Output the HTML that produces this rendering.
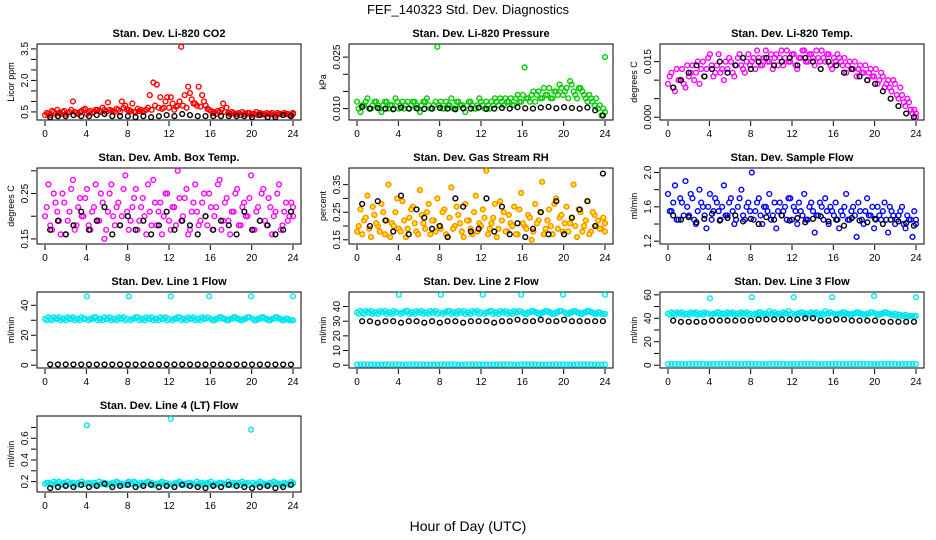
<!DOCTYPE html>
<html><head><meta charset="utf-8"><style>
html,body{margin:0;padding:0;background:#fff;}
svg{display:block;font-family:"Liberation Sans",sans-serif;}
</style></head><body>
<svg id="c" width="936" height="540" viewBox="0 0 936 540" xmlns="http://www.w3.org/2000/svg">
<text x="468" y="14" text-anchor="middle" font-size="13">FEF_140323  Std. Dev. Diagnostics</text>
<text x="468" y="531" text-anchor="middle" font-size="14">Hour of Day (UTC)</text>
</svg>
<script>
const hourTicks=[0,4,8,12,16,20,24];
const co2Red=[0.35,0.4,0.55,0.4,0.45,0.5,0.4,0.5,1.0,0.45,0.5,0.6,0.4,0.55,0.5,0.6,0.5,0.6,0.95,0.55,0.5,0.6,1.0,0.8,0.6,0.9,0.5,0.55,0.5,0.6,1.3,1.9,1.8,1.2,0.7,1.2,1.2,0.6,0.8,3.6,1.3,1.7,1.1,0.9,1.7,1.3,0.8,0.6,0.45,0.4,0.5,0.9,0.7,0.4,0.45,0.4,0.35,0.4,0.45,0.35,0.4,0.35,0.4,0.35,0.4,0.45,0.35,0.4,0.35,0.4,0.35,0.4];
const co2Red2=[0.45,0.35,0.5,0.6,0.4,0.55,0.45,0.6,0.5,0.4,0.55,0.65,0.5,0.45,0.6,0.55,0.7,0.5,0.6,0.55,0.65,0.5,0.7,0.6,0.55,0.5,0.65,0.6,0.55,0.7,0.6,0.8,0.7,0.65,1.0,0.7,0.9,0.75,1.0,0.8,0.7,1.4,0.9,0.8,0.75,1.0,0.65,0.55,0.5,0.55,0.6,0.5,0.45,0.5,0.4,0.45,0.5,0.4,0.45,0.4,0.5,0.45,0.4,0.45,0.4,0.35,0.45,0.4,0.45,0.4,0.35,0.45];
const co2Black=[0.25,0.3,0.3,0.35,0.3,0.3,0.35,0.4,0.3,0.3,0.3,0.25,0.3,0.25,0.3,0.35,0.3,0.4,0.35,0.3,0.3,0.3,0.3,0.3,0.3,0.3,0.25,0.35,0.25,0.25,0.35,0.3];
const presGreen=[0.012,0.009,0.011,0.013,0.010,0.012,0.011,0.009,0.012,0.010,0.011,0.013,0.010,0.012,0.011,0.010,0.012,0.011,0.009,0.012,0.013,0.010,0.011,0.028,0.012,0.010,0.011,0.013,0.010,0.012,0.011,0.009,0.012,0.011,0.010,0.013,0.011,0.012,0.010,0.011,0.012,0.013,0.011,0.012,0.013,0.011,0.014,0.012,0.022,0.013,0.014,0.012,0.015,0.013,0.014,0.016,0.013,0.015,0.017,0.014,0.016,0.018,0.015,0.013,0.016,0.014,0.012,0.013,0.011,0.010,0.008,0.025];
const presGreen2=[0.010,0.011,0.012,0.010,0.011,0.012,0.010,0.011,0.012,0.011,0.010,0.012,0.011,0.010,0.012,0.011,0.012,0.010,0.011,0.012,0.011,0.010,0.012,0.011,0.010,0.012,0.011,0.010,0.012,0.011,0.010,0.011,0.012,0.010,0.011,0.012,0.010,0.011,0.012,0.013,0.011,0.012,0.013,0.012,0.011,0.013,0.012,0.014,0.013,0.012,0.015,0.014,0.013,0.016,0.014,0.013,0.015,0.014,0.016,0.015,0.013,0.017,0.014,0.016,0.015,0.013,0.014,0.012,0.013,0.011,0.010,0.009];
const presBlack=[0.0105,0.010,0.0102,0.010,0.0098,0.0103,0.010,0.0101,0.0099,0.010,0.0102,0.010,0.0098,0.0101,0.010,0.0103,0.0099,0.010,0.0102,0.010,0.0104,0.0101,0.010,0.0103,0.0105,0.0101,0.0104,0.0102,0.010,0.0103,0.0095,0.008];
const tempMag=[0.009,0.012,0.007,0.010,0.013,0.008,0.011,0.014,0.012,0.009,0.015,0.013,0.017,0.011,0.014,0.012,0.010,0.013,0.015,0.011,0.016,0.014,0.012,0.017,0.015,0.013,0.016,0.014,0.018,0.015,0.013,0.017,0.016,0.014,0.018,0.015,0.017,0.013,0.016,0.018,0.015,0.017,0.014,0.016,0.018,0.015,0.017,0.013,0.015,0.016,0.014,0.012,0.015,0.013,0.011,0.014,0.012,0.010,0.013,0.011,0.009,0.012,0.008,0.010,0.007,0.009,0.005,0.006,0.003,0.004,0.001,0.000];
const tempMag2=[0.011,0.008,0.013,0.010,0.009,0.014,0.012,0.010,0.015,0.013,0.011,0.016,0.014,0.012,0.017,0.013,0.015,0.016,0.012,0.014,0.017,0.013,0.015,0.014,0.016,0.018,0.014,0.016,0.015,0.017,0.016,0.014,0.018,0.016,0.015,0.017,0.014,0.016,0.018,0.015,0.017,0.016,0.018,0.015,0.016,0.017,0.014,0.016,0.017,0.015,0.016,0.014,0.013,0.015,0.013,0.012,0.014,0.012,0.011,0.013,0.010,0.011,0.009,0.008,0.010,0.006,0.008,0.004,0.005,0.002,0.002,0.001];
const tempBlack=[0.008,0.010,0.012,0.014,0.011,0.013,0.015,0.012,0.014,0.016,0.013,0.015,0.016,0.014,0.015,0.016,0.014,0.016,0.015,0.013,0.015,0.014,0.012,0.013,0.011,0.010,0.009,0.007,0.005,0.003,0.001,0.000];
const ambMag=[0.20,0.27,0.17,0.23,0.19,0.25,0.16,0.21,0.28,0.18,0.24,0.20,0.26,0.17,0.22,0.19,0.25,0.15,0.21,0.27,0.18,0.23,0.20,0.29,0.17,0.22,0.26,0.19,0.24,0.16,0.21,0.28,0.18,0.23,0.20,0.25,0.17,0.22,0.30,0.19,0.24,0.16,0.21,0.27,0.18,0.23,0.20,0.25,0.17,0.22,0.28,0.19,0.24,0.16,0.21,0.26,0.18,0.23,0.20,0.29,0.17,0.22,0.25,0.19,0.24,0.16,0.21,0.27,0.18,0.23,0.20,0.22];
const ambMag2=[0.22,0.18,0.25,0.21,0.16,0.23,0.19,0.26,0.17,0.22,0.20,0.24,0.18,0.21,0.27,0.19,0.23,0.17,0.25,0.20,0.22,0.18,0.26,0.21,0.19,0.24,0.17,0.22,0.20,0.27,0.18,0.23,0.21,0.16,0.25,0.19,0.22,0.18,0.24,0.20,0.26,0.17,0.23,0.21,0.19,0.25,0.18,0.22,0.20,0.27,0.17,0.23,0.19,0.21,0.25,0.18,0.22,0.20,0.24,0.17,0.21,0.19,0.26,0.18,0.22,0.20,0.25,0.17,0.21,0.19,0.23,0.20];
const ambBlack=[0.17,0.19,0.16,0.18,0.21,0.17,0.19,0.22,0.16,0.18,0.20,0.17,0.19,0.16,0.18,0.21,0.17,0.19,0.18,0.16,0.20,0.17,0.19,0.18,0.16,0.21,0.17,0.19,0.18,0.16,0.17,0.21];
const rhOrange=[0.18,0.26,0.22,0.31,0.16,0.24,0.20,0.28,0.17,0.35,0.21,0.25,0.19,0.29,0.16,0.23,0.27,0.18,0.33,0.21,0.25,0.17,0.22,0.30,0.19,0.26,0.16,0.34,0.20,0.24,0.18,0.28,0.22,0.17,0.31,0.21,0.26,0.40,0.19,0.23,0.16,0.29,0.25,0.18,0.21,0.27,0.17,0.32,0.20,0.24,0.15,0.28,0.22,0.36,0.19,0.26,0.17,0.30,0.23,0.18,0.27,0.21,0.35,0.16,0.25,0.20,0.29,0.18,0.24,0.22,0.19,0.21];
const rhOrange2=[0.20,0.17,0.23,0.19,0.27,0.21,0.18,0.25,0.22,0.16,0.20,0.30,0.18,0.22,0.19,0.26,0.21,0.17,0.24,0.19,0.28,0.22,0.18,0.20,0.25,0.17,0.23,0.19,0.27,0.21,0.16,0.22,0.19,0.25,0.18,0.20,0.23,0.17,0.21,0.28,0.19,0.22,0.18,0.24,0.20,0.17,0.26,0.21,0.19,0.23,0.18,0.21,0.25,0.17,0.22,0.20,0.28,0.19,0.24,0.21,0.18,0.23,0.20,0.26,0.18,0.22,0.17,0.25,0.20,0.19,0.23,0.18];
const rhBlack=[0.28,0.20,0.29,0.22,0.18,0.31,0.17,0.26,0.23,0.19,0.20,0.16,0.30,0.27,0.18,0.19,0.30,0.18,0.27,0.17,0.21,0.16,0.19,0.25,0.17,0.29,0.17,0.23,0.26,0.29,0.20,0.39];
const flowBlue=[1.75,1.55,1.85,1.45,1.65,1.90,1.50,1.70,1.40,1.80,1.60,1.35,1.75,1.55,1.65,1.45,1.85,1.50,1.70,1.40,1.60,1.80,1.45,1.65,2.00,1.55,1.70,1.40,1.60,1.75,1.50,1.35,1.65,1.55,1.45,1.70,1.60,1.40,1.55,1.75,1.45,1.65,1.30,1.50,1.60,1.70,1.40,1.55,1.65,1.35,1.50,1.75,1.45,1.60,1.25,1.55,1.40,1.70,1.50,1.35,1.60,1.45,1.65,1.30,1.55,1.40,1.50,1.60,1.35,1.45,1.25,1.40];
const flowBlue2=[1.55,1.65,1.45,1.70,1.50,1.60,1.75,1.45,1.55,1.65,1.50,1.60,1.45,1.70,1.55,1.60,1.50,1.65,1.55,1.45,1.70,1.50,1.60,1.55,1.45,1.65,1.50,1.60,1.55,1.45,1.65,1.55,1.50,1.60,1.70,1.45,1.55,1.65,1.50,1.45,1.60,1.55,1.50,1.65,1.45,1.55,1.60,1.50,1.45,1.55,1.60,1.45,1.55,1.50,1.65,1.45,1.55,1.50,1.60,1.45,1.50,1.55,1.45,1.60,1.50,1.45,1.55,1.40,1.50,1.45,1.55,1.45];
const flowBlack=[1.50,1.45,1.48,1.42,1.46,1.52,1.44,1.47,1.50,1.43,1.46,1.40,1.48,1.45,1.50,1.44,1.47,1.42,1.46,1.49,1.43,1.45,1.38,1.47,1.44,1.42,1.46,1.40,1.45,1.43,1.41,1.38];
const line1Cyan=[31,32,30,31,32,31,30,31,32,31,30,31,46,31,32,30,31,32,31,30,31,32,31,30,46,31,32,30,31,32,31,30,31,32,31,30,46,31,32,30,31,32,31,30,31,32,31,46,30,31,32,31,30,31,32,31,30,31,32,46,30,31,32,31,30,31,32,31,30,31,30,46];
const line1Cyan2=[30,31,32,31,30,31,32,31,30,31,32,31,30,31,32,31,30,31,32,31,30,31,32,31,30,31,32,31,30,31,32,31,30,31,32,31,30,31,32,31,30,31,32,31,30,31,32,31,30,31,32,31,30,31,32,31,30,31,32,31,30,31,32,31,30,31,32,31,30,31,30,30];
const line1Black=[0.5,0.5,0.5,0.5,0.5,0.5,0.5,0.5,0.5,0.5,0.5,0.5,0.5,0.5,0.5,0.5,0.5,0.5,0.5,0.5,0.5,0.5,0.5,0.5,0.5,0.5,0.5,0.5,0.5,0.5,0.5,0.5];
const line2Cyan=[36,37,35,36,37,36,35,36,37,36,35,36,48,36,37,35,36,37,36,35,36,37,36,35,48,36,37,35,36,37,36,35,36,37,36,35,48,36,37,35,36,37,36,35,36,37,36,48,35,36,37,36,35,36,37,36,35,36,37,48,35,36,37,36,35,36,37,36,35,36,35,48];
const line2Cyan2=[35,36,37,36,35,36,37,36,35,36,37,36,35,36,37,36,35,36,37,36,35,36,37,36,35,36,37,36,35,36,37,36,35,36,37,36,35,36,37,36,35,36,37,36,35,36,37,36,35,36,37,36,35,36,37,36,35,36,37,36,35,36,37,36,35,36,37,36,35,36,35,35];
const line2Zero=[0.5,0.5,0.5,0.5,0.5,0.5,0.5,0.5,0.5,0.5,0.5,0.5,0.5,0.5,0.5,0.5,0.5,0.5,0.5,0.5,0.5,0.5,0.5,0.5,0.5,0.5,0.5,0.5,0.5,0.5,0.5,0.5,0.5,0.5,0.5,0.5,0.5,0.5,0.5,0.5,0.5,0.5,0.5,0.5,0.5,0.5,0.5,0.5,0.5,0.5,0.5,0.5,0.5,0.5,0.5,0.5,0.5,0.5,0.5,0.5,0.5,0.5,0.5,0.5,0.5,0.5,0.5,0.5,0.5,0.5,0.5,0.5];
const line2Black=[30,30,29,30,30,29,30,30,29,30,29,30,30,29,30,30,30,29,30,30,31,30,30,31,30,30,31,30,30,30,30,30];
const line3Cyan=[44,45,43,44,45,44,43,44,45,44,43,44,57,44,45,43,44,45,44,43,44,45,44,43,58,44,45,43,44,46,44,43,44,45,44,43,58,44,45,43,44,45,44,43,44,46,44,58,43,44,45,44,43,44,45,44,43,44,45,59,43,44,45,44,43,44,43,42,43,42,42,58];
const line3Cyan2=[43,44,45,44,43,44,45,44,43,44,45,44,43,44,45,44,43,44,45,44,43,44,45,44,43,44,45,44,43,44,45,44,43,44,46,44,43,44,45,44,43,44,45,44,43,44,45,44,43,44,45,44,43,44,45,44,43,44,45,44,43,44,45,44,43,42,43,42,41,42,41,42];
const line3Zero=[1,1,1,1,1,1,1,1,1,1,1,1,1,1,1,1,1,1,1,1,1,1,1,1,1,1,1,1,1,1,1,1,1,1,1,1,1,1,1,1,1,1,1,1,1,1,1,1,1,1,1,1,1,1,1,1,1,1,1,1,1,1,1,1,1,1,1,1,1,1,1,1];
const line3Black=[38,37,37,37,37,38,38,38,38,38,38,39,39,39,39,39,39,40,40,38,38,39,39,38,38,38,38,37,37,37,37,37];
const line4Cyan=[0.18,0.19,0.17,0.18,0.2,0.18,0.17,0.18,0.19,0.18,0.17,0.18,0.72,0.18,0.19,0.17,0.18,0.19,0.18,0.17,0.18,0.19,0.18,0.17,0.2,0.18,0.19,0.17,0.18,0.19,0.18,0.17,0.18,0.19,0.18,0.17,0.78,0.18,0.19,0.17,0.18,0.19,0.18,0.17,0.18,0.19,0.18,0.18,0.17,0.18,0.19,0.18,0.17,0.18,0.19,0.18,0.17,0.18,0.19,0.68,0.17,0.18,0.19,0.18,0.17,0.18,0.19,0.18,0.17,0.18,0.17,0.18];
const line4Cyan2=[0.19,0.18,0.2,0.19,0.17,0.19,0.2,0.18,0.17,0.19,0.2,0.18,0.19,0.17,0.18,0.2,0.19,0.17,0.18,0.19,0.2,0.18,0.17,0.19,0.18,0.2,0.17,0.19,0.18,0.2,0.19,0.17,0.18,0.2,0.19,0.18,0.17,0.19,0.2,0.18,0.17,0.19,0.18,0.2,0.17,0.18,0.19,0.2,0.18,0.17,0.19,0.18,0.2,0.17,0.18,0.19,0.2,0.18,0.17,0.19,0.18,0.2,0.17,0.18,0.19,0.2,0.18,0.17,0.19,0.18,0.2,0.19];
const line4Black=[0.14,0.15,0.16,0.15,0.17,0.15,0.16,0.18,0.15,0.16,0.17,0.15,0.16,0.17,0.15,0.16,0.15,0.17,0.16,0.15,0.14,0.16,0.15,0.17,0.16,0.15,0.14,0.15,0.16,0.14,0.15,0.17];

const panels=[
 {name:"co2",title:"Stan. Dev. Li-820 CO2",ylab:"Licor ppm",col:0,row:0,min:0.25,max:3.6,ticks:[0.5,1,1.5,2,2.5,3,3.5],labels:[0.5,2.0,3.5],dec:1,series:[[co2Red,"#ff0000",null],[co2Red2,"#ff0000",null],[co2Black,"#000",null]]},
 {name:"pressure",title:"Stan. Dev. Li-820 Pressure",ylab:"kPa",col:1,row:0,min:0.0075,max:0.028,ticks:[0.010,0.015,0.020,0.025],labels:[0.010,0.025],dec:3,series:[[presGreen,"#00cc00",null],[presGreen2,"#00cc00",null],[presBlack,"#000",null]]},
 {name:"temp",title:"Stan. Dev. Li-820 Temp.",ylab:"degrees C",col:2,row:0,min:0,max:0.019,ticks:[0,0.005,0.010,0.015],labels:[0,0.015],dec:3,series:[[tempMag,"#ff00ff",null],[tempMag2,"#ff00ff",null],[tempBlack,"#000",null]]},
 {name:"amb-box",title:"Stan. Dev. Amb. Box Temp.",ylab:"degrees C",col:0,row:1,min:0.145,max:0.30,ticks:[0.15,0.20,0.25,0.30],labels:[0.15,0.25],dec:2,series:[[ambMag,"#ff00ff",null],[ambMag2,"#ff00ff",null],[ambBlack,"#000",null]]},
 {name:"rh",title:"Stan. Dev. Gas Stream RH",ylab:"percent",col:1,row:1,min:0.145,max:0.40,ticks:[0.15,0.20,0.25,0.30,0.35],labels:[0.15,0.25,0.35],dec:2,series:[[rhOrange,"#ff8c00","#ffee00"],[rhOrange2,"#ff8c00","#ffee00"],[rhBlack,"#000",null]]},
 {name:"sample-flow",title:"Stan. Dev. Sample Flow",ylab:"ml/min",col:2,row:1,min:1.2,max:2.02,ticks:[1.2,1.4,1.6,1.8,2.0],labels:[1.2,1.6,2.0],dec:1,series:[[flowBlue,"#0000ff",null],[flowBlue2,"#0000ff",null],[flowBlack,"#000",null]]},
 {name:"line1",title:"Stan. Dev. Line 1 Flow",ylab:"ml/min",col:0,row:2,min:0,max:47,ticks:[0,10,20,30,40],labels:[0,20,40],dec:0,series:[[line1Cyan,"#00e5ee",null],[line1Cyan2,"#00e5ee",null],[line1Black,"#000",null]]},
 {name:"line2",title:"Stan. Dev. Line 2 Flow",ylab:"ml/min",col:1,row:2,min:0,max:48,ticks:[0,10,20,30,40],labels:[0,10,20,30,40],dec:0,series:[[line2Cyan,"#00e5ee",null],[line2Cyan2,"#00e5ee",null],[line2Zero,"#00e5ee",null],[line2Black,"#000",null]]},
 {name:"line3",title:"Stan. Dev. Line 3 Flow",ylab:"ml/min",col:2,row:2,min:0,max:60,ticks:[0,10,20,30,40,50,60],labels:[0,20,40,60],dec:0,series:[[line3Cyan,"#00e5ee",null],[line3Cyan2,"#00e5ee",null],[line3Zero,"#00e5ee",null],[line3Black,"#000",null]]},
 {name:"line4",title:"Stan. Dev. Line 4 (LT) Flow",ylab:"ml/min",col:0,row:3,min:0.13,max:0.78,ticks:[0.2,0.3,0.4,0.5,0.6,0.7],labels:[0.2,0.4,0.6],dec:1,series:[[line4Cyan,"#00e5ee",null],[line4Cyan2,"#00e5ee",null],[line4Black,"#000",null]]}
];
const NS="http://www.w3.org/2000/svg";
const svg=document.getElementById('c');
function mk(tag,attrs,parent){const e=document.createElementNS(NS,tag);for(const k in attrs)e.setAttribute(k,attrs[k]);(parent||svg).appendChild(e);return e;}
const colL=[37,349,660],rowT=[44,168,292,416],W=264,H=76;
panels.forEach(p=>{
 const L=colL[p.col],T=rowT[p.row];
 const g=mk('g',{});
 
 
 const xs=h=>L+8+h*(W-16)/24;
 const pad=(p.max-p.min)*0.04;
 const ys=v=>T+H-(v-(p.min-pad))/((p.max+pad)-(p.min-pad))*H;
 const t=mk('text',{x:L+W/2,y:T-7,'text-anchor':'middle','font-size':'11','font-weight':'bold'},g);t.textContent=p.title;
 
 
 const box=mk('rect',{x:L,y:T,width:W,height:H,fill:'none',stroke:'#000','stroke-width':1},g);
 
 
 hourTicks.forEach(h=>{const x=xs(h);mk('line',{x1:x,y1:T+H+1,x2:x,y2:T+H+6,stroke:'#000'},g);
  const tx=mk('text',{x:x,y:T+H+17,'text-anchor':'middle','font-size':'10'},g);tx.textContent=h;
  
  });
 p.ticks.forEach(v=>{const y=ys(v);mk('line',{x1:L-1,y1:y,x2:L-6,y2:y,stroke:'#000'},g);});
 p.labels.forEach(v=>{const y=ys(v);const tx=mk('text',{x:0,y:0,'text-anchor':'middle','font-size':'10',transform:`translate(${L-9},${y}) rotate(-90)`},g);tx.textContent=v.toFixed(p.dec);
  
  });
 const yl=mk('text',{x:0,y:0,'text-anchor':'middle','font-size':'9',transform:`translate(${L-23},${T+H/2}) rotate(-90)`},g);yl.textContent=p.ylab;
 
 
 let colorCount=0;
 p.series.forEach(([arr,color,fill],si)=>{
  const n=arr.length;const sg=mk('g',{},g);
  
  
  const shift=(n>40 && color!=="#000")?(colorCount++%2)*0.5:0;
  arr.forEach((v,i)=>{
   const h=n>40? Math.min(24,(i+shift)*24/(n-1)) : 0.5+i*23.3/(n-1);
   const c=mk('circle',{cx:xs(h),cy:ys(v),r:2.4,fill:fill||'none',stroke:color,'stroke-width':1.4},sg);
   
   
  });
 });
});
</script>
</body></html>
